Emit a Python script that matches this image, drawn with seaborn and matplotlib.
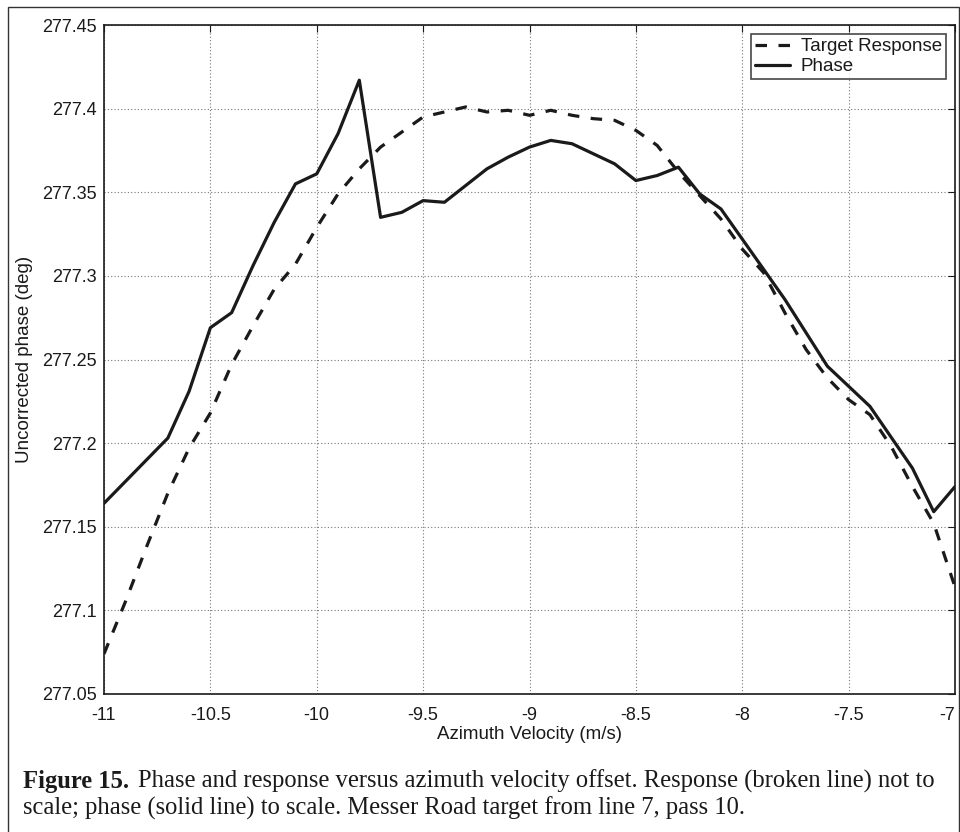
import matplotlib
matplotlib.use("Agg")
import matplotlib.pyplot as plt
import seaborn as sns
import pandas as pd
from matplotlib.patches import Rectangle

# ---- data ----
resp_x = [-11.0, -10.9, -10.8, -10.7, -10.6, -10.5, -10.4, -10.3, -10.2, -10.1,
          -10.0, -9.9, -9.8, -9.7, -9.6, -9.5, -9.4, -9.3, -9.2, -9.1,
          -9.0, -8.9, -8.8, -8.7, -8.6, -8.5, -8.4, -8.3, -8.2, -8.1,
          -8.0, -7.9, -7.8, -7.7, -7.6, -7.5, -7.4, -7.3, -7.2, -7.1, -7.0]
resp_y = [277.074, 277.105, 277.138, 277.170, 277.197, 277.218, 277.247, 277.270, 277.292, 277.307,
          277.329, 277.349, 277.364, 277.377, 277.386, 277.395, 277.398, 277.401, 277.398, 277.399,
          277.396, 277.399, 277.396, 277.394, 277.393, 277.387, 277.378, 277.362, 277.348, 277.334,
          277.316, 277.302, 277.278, 277.256, 277.239, 277.226, 277.217, 277.198, 277.174, 277.152, 277.114]

phase_x = [-11.0, -10.7, -10.6, -10.5, -10.4, -10.3, -10.2, -10.1, -10.0, -9.9,
           -9.8, -9.7, -9.6, -9.5, -9.4, -9.3, -9.2, -9.1, -9.0, -8.9,
           -8.8, -8.7, -8.6, -8.5, -8.4, -8.3, -8.2, -8.1, -8.0, -7.9,
           -7.8, -7.6, -7.4, -7.2, -7.1, -7.0]
phase_y = [277.164, 277.203, 277.231, 277.269, 277.278, 277.306, 277.332, 277.355, 277.361, 277.385,
           277.417, 277.335, 277.338, 277.345, 277.344, 277.354, 277.364, 277.371, 277.377, 277.381,
           277.379, 277.373, 277.367, 277.357, 277.360, 277.365, 277.349, 277.340, 277.322, 277.304,
           277.286, 277.246, 277.222, 277.185, 277.159, 277.174]

x_ticks = [-11, -10.5, -10, -9.5, -9, -8.5, -8, -7.5, -7]
x_tick_labels = ["-11", "-10.5", "-10", "-9.5", "-9", "-8.5", "-8", "-7.5", "-7"]
y_ticks = [277.05, 277.1, 277.15, 277.2, 277.25, 277.3, 277.35, 277.4, 277.45]
y_tick_labels = ["277.05", "277.1", "277.15", "277.2", "277.25", "277.3", "277.35", "277.4", "277.45"]

sns.set_theme(style="white")
plt.rcParams['font.family'] = ['Liberation Sans', 'DejaVu Sans']

INK = "#1a1a1a"
fig = plt.figure(figsize=(9.6, 8.32), dpi=100)
ax = fig.add_axes([104/960, 1-694/832, (955-104)/960, (694-25)/832])

df_r = pd.DataFrame({"x": resp_x, "y": resp_y})
df_p = pd.DataFrame({"x": phase_x, "y": phase_y})
sns.lineplot(data=df_r, x="x", y="y", ax=ax, color=INK, linewidth=2.3,
             linestyle=(0, (3.6, 3.6)), label="Target Response", sort=False)
sns.lineplot(data=df_p, x="x", y="y", ax=ax, color=INK, linewidth=2.3,
             label="Phase", sort=False)

ax.set_xlim(-11, -7)
ax.set_ylim(277.05, 277.45)
ax.set_xticks(x_ticks)
ax.set_xticklabels(x_tick_labels)
ax.set_yticks(y_ticks)
ax.set_yticklabels(y_tick_labels)
ax.tick_params(direction="in", length=5, width=0.8, top=True, right=True,
               labelsize=13, colors=INK)
ax.tick_params(axis="x", pad=9)
ax.tick_params(axis="y", pad=5)
# last x tick label sits flush with the right edge, as in the reference
ax.get_xticklabels()[-1].set_horizontalalignment("right")
ax.grid(True, linestyle=(0, (1, 2)), color="#777777", linewidth=0.8)
for s in ax.spines.values():
    s.set_color(INK)
    s.set_linewidth(1.2)
ax.set_xlabel("Azimuth Velocity (m/s)", fontsize=13.5, color=INK, labelpad=2)
ax.set_ylabel("Uncorrected phase (deg)", fontsize=13.5, color=INK, labelpad=7)

leg = ax.legend(loc="upper right", fontsize=13.5, frameon=True, fancybox=False,
                edgecolor=INK, handlelength=1.9, borderpad=0.2,
                labelspacing=0.15, borderaxespad=0.5, handletextpad=0.55)
leg.get_frame().set_linewidth(1.2)
for t in leg.get_texts():
    t.set_color(INK)

# outer frame around figure and caption
fig.patches.append(Rectangle((7.5/960, -0.01), (959-7.5)/960, 1 - 7/832 + 0.01,
                             transform=fig.transFigure, fill=False,
                             edgecolor="#333333", linewidth=1.0))

serif = ['Liberation Serif', 'DejaVu Serif']
fs_cap = 17.7
fig.text(23/960, 1-788/832, "Figure 15.", fontsize=fs_cap, fontweight="bold",
         family=serif, color=INK, va="baseline")
fig.text(138/960, 1-788/832,
         "Phase and response versus azimuth velocity offset. Response (broken line) not to",
         fontsize=fs_cap, family=serif, color=INK, va="baseline")
fig.text(23/960, 1-815/832,
         "scale; phase (solid line) to scale. Messer Road target from line 7, pass 10.",
         fontsize=fs_cap, family=serif, color=INK, va="baseline")

fig.savefig("out.png", dpi=100)
